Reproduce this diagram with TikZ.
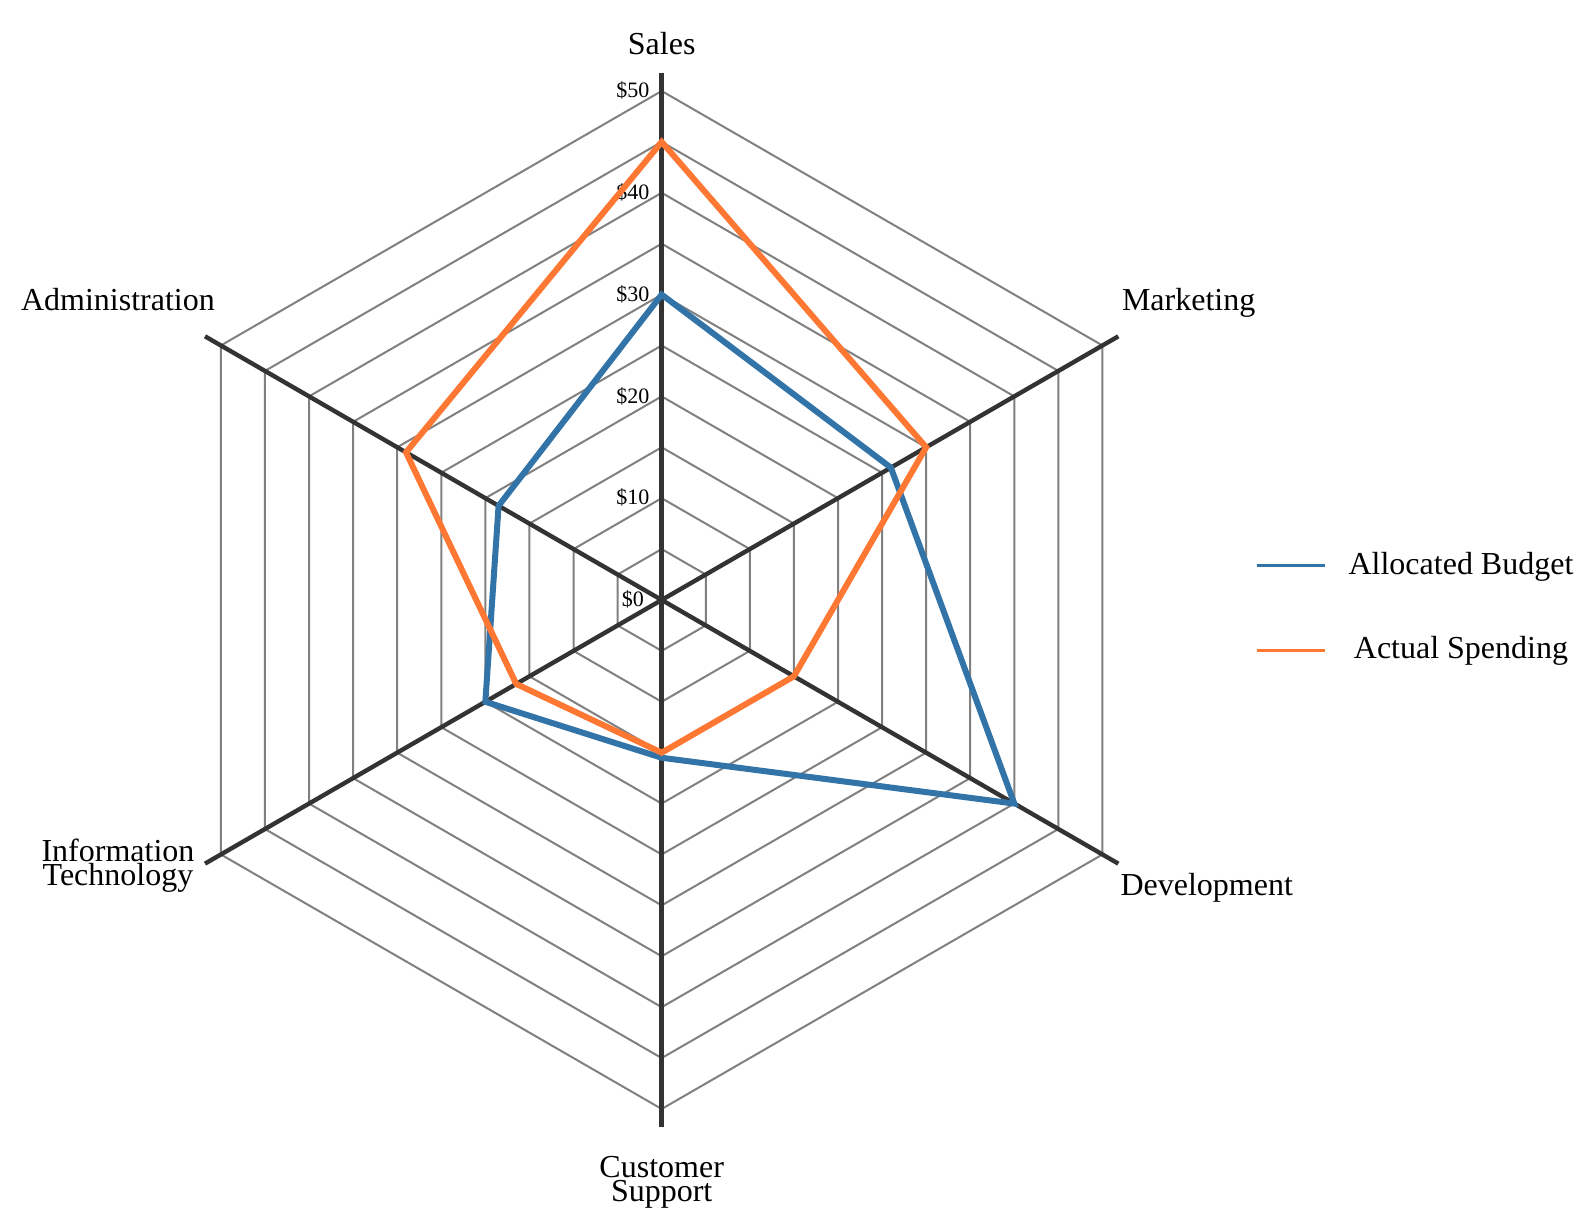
\documentclass[tikz,border=0pt]{standalone}
\usepackage{fontspec}
\setmainfont{Liberation Serif}
\definecolor{budgetblue}{HTML}{3274A8}
\definecolor{spendorange}{HTML}{FE7733}

\begin{document}
\begin{tikzpicture}[x=5.09pt, y=5.09pt,
    ring/.style={draw=black!50, line width=1pt},
    spoke/.style={draw=black!80, line width=2.2pt},
    series/.style={line width=3pt},
    keyline/.style={line width=1.5pt},
    axislabel/.style={font=\fontsize{16}{12.3}\selectfont, align=center, anchor=base},
    ticklabel/.style={font=\fontsize{11}{13}\selectfont, anchor=base}]

    \useasboundingbox (-65.0,-61.3) rectangle (90.8,58.94);

    % grid rings, one every $5
    \foreach \r in {5,10,...,50}
        \draw[ring] (90:\r) -- (30:\r) -- (-30:\r) -- (-90:\r) -- (-150:\r) -- (150:\r) -- cycle;

    % axes
    \coordinate (center) at (0,0);
    \foreach \a/\n in {90/sales, 30/mkt, -30/dev, -90/cs, -150/it, 150/adm}
        \coordinate (end-\n) at (\a:51.8);
    \foreach \n in {sales, mkt, dev, cs, it, adm}
        \draw[spoke] (center) -- (end-\n);

    % scale labels
    \foreach \v in {0,10,...,50}
        \node[ticklabel] (tick-\v) at (-2.82,\v-0.65) {\$\v};

    % axis labels (base = last line)
    \node[axislabel] (sales) at (0,53.54) {Sales};
    \node[axislabel] (mkt) at (51.77,28.42) {Marketing};
    \node[axislabel] (dev) at (53.54,-29.05) {Development};
    \node[axislabel] (cs) at (0,-59.11) {Customer\\Support};
    \node[axislabel] (it) at (-53.41,-28.09) {Information\\Technology};
    \node[axislabel] (adm) at (-53.41,28.42) {Administration};

    % data
    \foreach \a/\v [count=\i] in {90/30, 30/26, -30/40, -90/15.5, -150/20, 150/18.5}
        \coordinate (b\i) at (\a:\v);
    \foreach \a/\v [count=\i] in {90/45, 30/30, -30/15, -90/15, -150/16.5, 150/29}
        \coordinate (s\i) at (\a:\v);
    \draw[series, budgetblue] (b1) -- (b2) -- (b3) -- (b4) -- (b5) -- (b6) -- cycle;
    \draw[series, spendorange] (s1) -- (s2) -- (s3) -- (s4) -- (s5) -- (s6) -- cycle;

    % legend
    \coordinate (key-b-l) at (58.48,3.34);
    \coordinate (key-b-r) at (65.16,3.34);
    \coordinate (key-s-l) at (58.48,-4.98);
    \coordinate (key-s-r) at (65.16,-4.98);
    \draw[keyline, budgetblue] (key-b-l) -- (key-b-r);
    \draw[keyline, spendorange] (key-s-l) -- (key-s-r);
    \node[axislabel] (key-b) at (78.52,2.55) {Allocated Budget};
    \node[axislabel] (key-s) at (78.52,-5.73) {Actual Spending};

\end{tikzpicture}
\end{document}
